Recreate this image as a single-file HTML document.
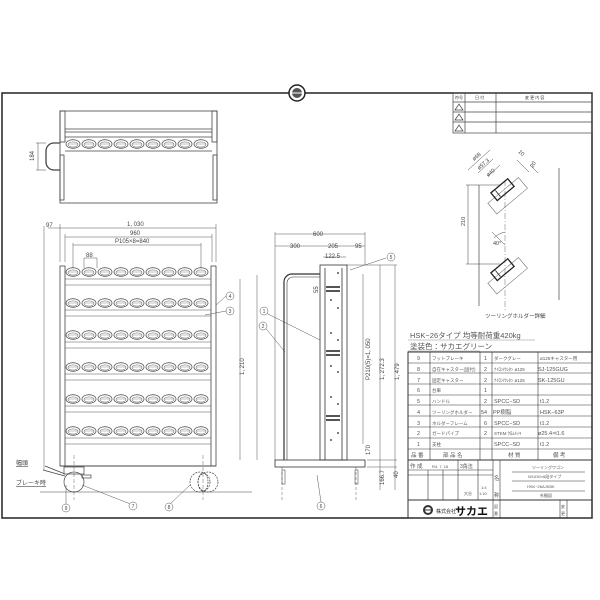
<!DOCTYPE html>
<html><head><meta charset="utf-8"><style>
html,body{margin:0;padding:0;background:#fff;}
svg{display:block;font-family:"Liberation Sans","Noto Sans CJK JP",sans-serif;}
</style></head><body>
<svg width="600" height="600" viewBox="0 0 600 600" xmlns="http://www.w3.org/2000/svg">
<defs>
<g id="ov"><ellipse cx="0" cy="0" rx="7" ry="4.3" fill="none" stroke="#555" stroke-width="0.8"/><ellipse cx="0" cy="0.5" rx="5" ry="2.6" fill="none" stroke="#777" stroke-width="0.6"/><line x1="-5" y1="0" x2="5" y2="0" stroke="#888" stroke-width="0.5"/></g>
<g id="row"><use href="#ov" x="73"/><use href="#ov" x="89"/><use href="#ov" x="105"/><use href="#ov" x="121"/><use href="#ov" x="137"/><use href="#ov" x="153"/><use href="#ov" x="169"/><use href="#ov" x="185"/><use href="#ov" x="201"/></g>
<g id="hold"><rect x="-20" y="-6" width="40" height="14" fill="none" stroke="#777" stroke-width="0.6"/><rect x="-11" y="-12" width="22" height="10" fill="none" stroke="#222" stroke-width="1.3"/><line x1="-6" y1="-11" x2="-6" y2="-3" stroke="#222" stroke-width="0.8"/></g>
</defs>
<rect width="600" height="600" fill="#fff"/>
<rect x="2" y="93" width="590" height="425" fill="none" stroke="#222" stroke-width="1.5"/>
<circle cx="297" cy="93" r="8" fill="#fff" stroke="#222" stroke-width="1.5"/><circle cx="297" cy="93" r="5" fill="#555"/><line x1="292" y1="93" x2="302" y2="93" stroke="#fff"/>
<g stroke="#444" stroke-width="0.7" fill="none">
<rect x="453" y="93" width="139" height="40"/>
<line x1="453" y1="102" x2="592" y2="102"/><line x1="453" y1="112" x2="592" y2="112"/><line x1="453" y1="122" x2="592" y2="122"/>
<line x1="465" y1="93" x2="465" y2="133"/><line x1="496" y1="93" x2="496" y2="133"/>
<path d="M455 110l4-6 4 6z M455 120l4-6 4 6z M455 131l4-6 4 6z"/>
</g>
<g font-size="4" fill="#333"><text x="455" y="99">符号</text><text x="475" y="99">日 付</text><text x="525" y="99">変 更 内 容</text></g>
<g stroke="#444" stroke-width="0.8" fill="none">
<rect x="60" y="111" width="157" height="92"/>
<rect x="60" y="111" width="5" height="31"/><rect x="212" y="111" width="5" height="31"/>
<rect x="60" y="155" width="4" height="45"/><rect x="213" y="155" width="4" height="45"/>
<line x1="65" y1="129" x2="212" y2="129"/><line x1="65" y1="132" x2="212" y2="132"/><line x1="65" y1="137" x2="212" y2="137"/><line x1="65" y1="151" x2="212" y2="151"/>
<path d="M60 143h-6a8 8 0 0 0-8 8v11a8 8 0 0 0 8 8h6" stroke-width="1.3"/>
<line x1="36" y1="143" x2="46" y2="143" stroke-width="0.5"/><line x1="36" y1="170" x2="46" y2="170" stroke-width="0.5"/><line x1="38" y1="143" x2="38" y2="170" stroke-width="0.5"/>
</g>
<use href="#row" y="144"/>
<text x="34" y="161" font-size="6" fill="#444" transform="rotate(-90 34 161)">184</text>
<g stroke="#555" stroke-width="0.5" fill="none">
<line x1="44" y1="226" x2="44" y2="470"/><line x1="48" y1="228" x2="216" y2="228"/><line x1="65" y1="237" x2="212" y2="237"/><line x1="73" y1="245" x2="201" y2="245"/>
<line x1="60" y1="224" x2="60" y2="262"/><line x1="216" y1="224" x2="216" y2="262"/><line x1="65" y1="234" x2="65" y2="262"/><line x1="212" y1="234" x2="212" y2="262"/>
<line x1="73" y1="243" x2="73" y2="268"/><line x1="201" y1="243" x2="201" y2="268"/>
<path d="M84 268v-10h13v10"/>
<line x1="240" y1="279" x2="240" y2="460"/>
</g>
<g font-size="6" fill="#444"><text x="46" y="227">97</text><text x="127" y="226">1, 030</text><text x="130" y="235">960</text><text x="115" y="243">P105×8=840</text><text x="86" y="257">88</text><text x="244" y="375" transform="rotate(-90 244 375)">1, 210</text></g>
<g stroke="#444" stroke-width="0.8" fill="none">
<rect x="60" y="266" width="5" height="200"/><rect x="211" y="266" width="5" height="200"/>
<line x1="60" y1="466" x2="216" y2="466" stroke-width="1"/>
</g>
<g stroke="#555" stroke-width="0.6">
<line x1="65" y1="279" x2="211" y2="279"/><line x1="65" y1="285" x2="211" y2="285"/>
<line x1="65" y1="310" x2="211" y2="310"/><line x1="65" y1="316" x2="211" y2="316"/>
<line x1="65" y1="342" x2="211" y2="342"/><line x1="65" y1="348" x2="211" y2="348"/>
<line x1="65" y1="374" x2="211" y2="374"/><line x1="65" y1="380" x2="211" y2="380"/>
<line x1="65" y1="406" x2="211" y2="406"/><line x1="65" y1="412" x2="211" y2="412"/>
<line x1="65" y1="438" x2="211" y2="438"/><line x1="65" y1="444" x2="211" y2="444"/>
</g>
<use href="#row" y="272"/><use href="#row" y="303"/><use href="#row" y="335"/><use href="#row" y="367"/><use href="#row" y="399"/><use href="#row" y="431"/>
<g stroke="#444" stroke-width="0.7" fill="none">
<rect x="64" y="467" width="20" height="7"/>
<circle cx="74" cy="482" r="10"/>
<path d="M45 466l20 8M43 470l22 6" />
<rect x="82" y="475" width="9" height="3"/>
<line x1="40" y1="492" x2="252" y2="492" stroke-width="0.5"/>
<circle cx="200" cy="482" r="10" stroke-dasharray="2 1"/><circle cx="208" cy="482" r="10" stroke-dasharray="2 1"/><ellipse cx="203" cy="482" rx="5" ry="9" stroke-dasharray="2 1"/>
<line x1="74" y1="455" x2="74" y2="500" stroke-dasharray="4 2" stroke-width="0.4"/><line x1="203" y1="455" x2="203" y2="500" stroke-dasharray="4 2" stroke-width="0.4"/>
</g>
<g font-size="6" fill="#444"><text x="16" y="465" text-decoration="underline">幅頭</text><text x="16" y="485" text-decoration="underline">ブレーキ時</text></g>
<g stroke="#555" stroke-width="0.5" fill="#fff" font-size="5">
<line x1="216" y1="305" x2="226" y2="296"/><circle cx="230" cy="296" r="4"/>
<line x1="205" y1="315" x2="226" y2="311"/><circle cx="230" cy="311" r="4"/>
<line x1="66" y1="485" x2="66" y2="508"/><circle cx="66" cy="508" r="4"/>
<line x1="82" y1="485" x2="133" y2="505"/><circle cx="133" cy="506" r="4"/>
<line x1="190" y1="485" x2="169" y2="505"/><circle cx="169" cy="507" r="4"/>
<line x1="320" y1="340" x2="264" y2="312"/><circle cx="264" cy="311" r="4"/>
<line x1="285" y1="352" x2="263" y2="325"/><circle cx="263" cy="326" r="4"/>
<line x1="317" y1="475" x2="321" y2="502"/><circle cx="321" cy="506" r="4"/>
<line x1="350" y1="270" x2="386" y2="258"/><circle cx="391" cy="257" r="4"/>
</g>
<g font-size="5" fill="#444" text-anchor="middle"><text x="230" y="298">4</text><text x="230" y="313">3</text><text x="66" y="510">9</text><text x="133" y="508">7</text><text x="169" y="509">8</text><text x="264" y="313">1</text><text x="263" y="328">2</text><text x="321" y="508">6</text><text x="391" y="259">5</text></g>
<g stroke="#555" stroke-width="0.5" fill="none">
<line x1="275" y1="234" x2="365" y2="234"/><line x1="275" y1="246" x2="365" y2="246"/><line x1="323" y1="257" x2="346" y2="257"/>
<line x1="275" y1="232" x2="275" y2="460"/><line x1="365" y1="232" x2="365" y2="265"/>
<line x1="257" y1="275" x2="257" y2="460"/><line x1="380" y1="265" x2="380" y2="490"/><line x1="395" y1="265" x2="395" y2="490"/>
<line x1="363" y1="274" x2="363" y2="444"/>
<line x1="367" y1="460" x2="397" y2="460"/><line x1="367" y1="467" x2="397" y2="467"/><line x1="346" y1="265" x2="397" y2="265"/>
</g>
<g font-size="6" fill="#444"><text x="313" y="236">600</text><text x="290" y="248">300</text><text x="328" y="248">205</text><text x="355" y="248">95</text><text x="325" y="258">122.5</text>
<text x="370" y="380" transform="rotate(-90 370 380)">P210(5)=1, 050</text><text x="384" y="380" transform="rotate(-90 384 380)">1, 272.3</text><text x="399" y="380" transform="rotate(-90 399 380)">1, 479</text><text x="370" y="455" transform="rotate(-90 370 455)">170</text><text x="398" y="478" transform="rotate(-90 398 478)">40</text><text x="384" y="485" transform="rotate(-90 384 485)">166.7</text><text x="318" y="293" transform="rotate(-90 318 293)">55</text></g>
<g stroke="#333" stroke-width="0.8" fill="none">
<rect x="275" y="460" width="90" height="7"/>
<rect x="320" y="265" width="27" height="195"/>
<line x1="325" y1="268" x2="325" y2="460"/><line x1="342" y1="268" x2="342" y2="460"/>
<path d="M284 460V282a8 8 0 0 1 8-8h28" stroke-width="1.2"/><path d="M287 460V283a6 6 0 0 1 6-6h27" stroke-width="0.6"/>
<line x1="282" y1="467" x2="282" y2="500" stroke-dasharray="3 2" stroke-width="0.4"/><line x1="356" y1="467" x2="356" y2="500" stroke-dasharray="3 2" stroke-width="0.4"/>
<rect x="282" y="470" width="3" height="14" stroke-width="0.5"/><rect x="355" y="470" width="3" height="14" stroke-width="0.5"/>
</g>
<g fill="#555">
<rect x="326" y="286" width="14" height="2"/><rect x="326" y="290" width="14" height="2"/>
<rect x="326" y="350" width="14" height="2"/><rect x="326" y="354" width="14" height="2"/>
<rect x="326" y="415" width="14" height="2"/><rect x="326" y="419" width="14" height="2"/>
<circle cx="338" cy="273" r="1"/><circle cx="331" cy="300" r="1"/><circle cx="338" cy="308" r="1"/><circle cx="331" cy="333" r="1"/><circle cx="338" cy="340" r="1"/><circle cx="331" cy="366" r="1"/><circle cx="338" cy="372" r="1"/><circle cx="331" cy="397" r="1"/><circle cx="338" cy="404" r="1"/><circle cx="331" cy="440" r="1"/><circle cx="338" cy="433" r="1"/>
</g>
<!-- holder detail -->
<g stroke="#444" stroke-width="0.7" fill="none">
<line x1="505" y1="180" x2="505" y2="312" stroke-dasharray="6 2 1 2" stroke-width="0.4"/>
<line x1="559" y1="168" x2="559" y2="300"/>
<line x1="479" y1="185" x2="479" y2="306"/>
<line x1="468" y1="185" x2="468" y2="264" stroke-width="0.5"/><line x1="466" y1="185" x2="500" y2="185" stroke-width="0.5"/><line x1="466" y1="264" x2="500" y2="264" stroke-width="0.5"/>
<path d="M468 170l22-20M478 173l15-14M488 176l12-11M517 160l12 12M530 165l8 8" stroke-width="0.5"/>
<path d="M494 238a22 22 0 0 1 11-6" stroke-width="0.5"/><line x1="505" y1="245" x2="492" y2="232" stroke-width="0.5"/>
</g>
<use href="#hold" transform="translate(507 195) rotate(-40)"/>
<use href="#hold" transform="translate(507 275) rotate(-40)"/>
<g font-size="5.5" fill="#444"><text x="465" y="226" transform="rotate(-90 465 226)">210</text><text x="493" y="245">40°</text><text x="474" y="161" transform="rotate(-40 474 161)">ø68</text><text x="479" y="170" transform="rotate(-40 479 170)">ø57.3</text><text x="488" y="177" transform="rotate(-40 488 177)">ø40</text><text x="518" y="152" transform="rotate(45 518 152)">10</text><text x="533" y="168" transform="rotate(-60 533 168)">20</text><text x="485" y="318">ツーリングホルダー詳細</text></g>
<g font-size="7.5" fill="#555"><text x="410" y="338">HSK−26タイプ 均等耐荷重420kg</text><text x="410" y="349">塗装色：サカエグリーン</text></g>
<line x1="408" y1="340" x2="535" y2="340" stroke="#888" stroke-width="0.5"/><line x1="408" y1="351" x2="480" y2="351" stroke="#888" stroke-width="0.5"/>
<g stroke="#333" stroke-width="0.6" fill="none">
<rect x="408" y="352" width="184" height="166" stroke-width="1"/>
<line x1="408" y1="363" x2="592" y2="363"/><line x1="408" y1="373" x2="592" y2="373"/><line x1="408" y1="384" x2="592" y2="384"/><line x1="408" y1="395" x2="592" y2="395"/><line x1="408" y1="405" x2="592" y2="405"/><line x1="408" y1="416" x2="592" y2="416"/><line x1="408" y1="427" x2="592" y2="427"/><line x1="408" y1="438" x2="592" y2="438"/><line x1="408" y1="449" x2="592" y2="449"/>
<line x1="408" y1="460" x2="592" y2="460" stroke-width="1"/>
<line x1="430" y1="352" x2="430" y2="460"/><line x1="480" y1="352" x2="480" y2="460"/><line x1="492" y1="352" x2="492" y2="460"/><line x1="538" y1="352" x2="538" y2="460"/>
<line x1="408" y1="470" x2="493" y2="470"/><line x1="408" y1="475" x2="493" y2="475"/><line x1="408" y1="500" x2="592" y2="500" stroke-width="1"/>
<line x1="428" y1="470" x2="428" y2="500"/><line x1="443" y1="470" x2="443" y2="500"/><line x1="458" y1="460" x2="458" y2="500"/><line x1="478" y1="460" x2="478" y2="500"/><line x1="493" y1="460" x2="493" y2="518"/><line x1="500" y1="460" x2="500" y2="518"/>
<line x1="512" y1="472" x2="585" y2="472"/><line x1="512" y1="481" x2="585" y2="481"/><line x1="512" y1="491" x2="585" y2="491"/>
<line x1="560" y1="500" x2="560" y2="518"/><line x1="567" y1="500" x2="567" y2="518"/>
</g>
<g font-size="5.5" fill="#555">
<text x="417" y="360">9</text><text x="432" y="360" font-size="4.5">フットブレーキ</text><text x="484" y="360">1</text><text x="494" y="360" font-size="4.5">ダークグレー</text><text x="540" y="360" font-size="4.5">ø125キャスター用</text>
<text x="417" y="371">8</text><text x="432" y="371" font-size="4.5">自在キャスター(固付)</text><text x="484" y="371">2</text><text x="494" y="371" font-size="4.5">ﾅｲﾛﾝ/ｳﾚﾀﾝ ø125</text><text x="538" y="371">SJ-125GUG</text>
<text x="417" y="382">7</text><text x="432" y="382" font-size="4.5">固定キャスター</text><text x="484" y="382">2</text><text x="494" y="382" font-size="4.5">ﾅｲﾛﾝ/ｳﾚﾀﾝ ø125</text><text x="538" y="382">SK-125GU</text>
<text x="417" y="392">6</text><text x="432" y="392" font-size="4.5">台車</text><text x="484" y="392">1</text>
<text x="417" y="403">5</text><text x="432" y="403" font-size="4.5">ハンドル</text><text x="484" y="403">2</text><text x="494" y="403">SPCC−SD</text><text x="540" y="403">t1.2</text>
<text x="417" y="414">4</text><text x="432" y="414" font-size="4.5">ツーリングホルダー</text><text x="481" y="414">54</text><text x="493" y="414">PP樹脂</text><text x="540" y="414">HSK−63P</text>
<text x="417" y="425">3</text><text x="432" y="425" font-size="4.5">ホルダーフレーム</text><text x="484" y="425">6</text><text x="494" y="425">SPCC−SD</text><text x="540" y="425">t1.2</text>
<text x="417" y="435">2</text><text x="432" y="435" font-size="4.5">ガードパイプ</text><text x="484" y="435">2</text><text x="494" y="435" font-size="4.5">STKM ｸﾛﾑﾒｯｷ</text><text x="538" y="435">ø25.4×t1.6</text>
<text x="417" y="446">1</text><text x="432" y="446" font-size="4.5">支柱</text><text x="494" y="446">SPCC−SD</text><text x="540" y="446">t1.2</text>
<text x="411" y="457">品 番</text><text x="443" y="457">部 品 名</text><text x="508" y="457">材 質</text><text x="553" y="457">備 考</text>
<text x="410" y="468">作 成</text><text x="432" y="468" font-size="4">R4. 7. 16</text><text x="460" y="468" font-size="5">3角法</text><text x="494" y="480">名</text><text x="494" y="497">称</text>
<text x="532" y="469" font-size="4">ツーリングワゴン</text><text x="528" y="478" font-size="4">W1030×6段タイプ</text><text x="527" y="488" font-size="4">HSK−26AJKBK</text><text x="540" y="497" font-size="4">外観図</text>
<text x="481" y="489" font-size="4">1:4</text><text x="479" y="495" font-size="4">1:10</text><text x="464" y="495" font-size="4">大谷</text>
<text x="494" y="508" font-size="4">図</text><text x="494" y="515" font-size="4">番</text><text x="561" y="508" font-size="4">変</text><text x="561" y="515" font-size="4">更</text>
</g>
<circle cx="428" cy="510" r="5" fill="#333"/><circle cx="428" cy="510" r="3" fill="#fff"/><line x1="424" y1="510" x2="432" y2="510" stroke="#333"/>
<text x="436" y="513" font-size="5" fill="#222">株式会社</text><text x="455" y="515" font-size="11" font-weight="bold" fill="#111">サカエ</text>
</svg>
</body></html>
